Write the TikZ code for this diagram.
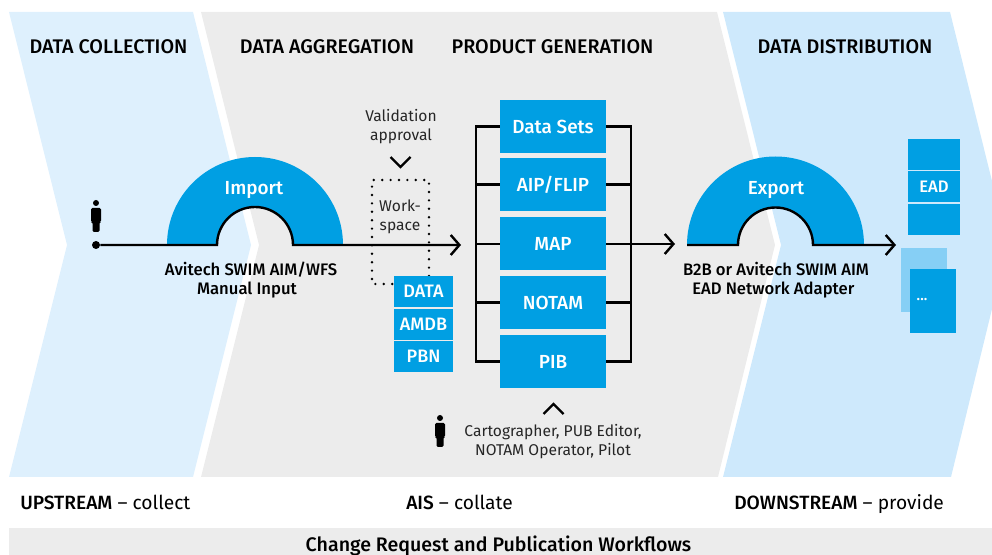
\documentclass[tikz,border=0pt]{standalone}
\usepackage{fontspec}
\setmainfont{Fira Sans}
\newfontfamily\medfont{Fira Sans Medium}
\usetikzlibrary{arrows.meta,calc}
\definecolor{bandone}{HTML}{DEF0FD}
\definecolor{bandtwo}{HTML}{ECECEC}
\definecolor{bandthree}{HTML}{CEE9FC}
\definecolor{avblue}{HTML}{009FE3}
\definecolor{avlight}{HTML}{86CFF5}
\tikzset{
  >={Straight Barb[length=6.5pt,width=15pt,line width=1.8pt]},
  wire/.style={line width=1.8pt,black},
  chevron/.style={line width=1.8pt,black},
  prodbox/.style={fill=avblue,text=white,minimum width=79.5pt,minimum height=39.75pt,inner sep=0pt,font=\medfont\fontsize{14.2}{16}\selectfont},
  smallbox/.style={fill=avblue,text=white,minimum width=44.25pt,minimum height=23.25pt,inner sep=0pt,font=\medfont\fontsize{13.5}{15}\selectfont},
  eadbox/.style={fill=avblue,text=white,minimum width=39pt,minimum height=23.25pt,inner sep=0pt,font=\medfont\fontsize{12.5}{14}\selectfont},
  heading/.style={font=\medfont\fontsize{14.8}{17}\selectfont,inner sep=0pt},
  caption/.style={font=\medfont\fontsize{12.5}{14.25}\selectfont,align=center,inner sep=0pt},
  plaintext/.style={font=\fontsize{11.7}{14.25}\selectfont,align=center,inner sep=0pt,text=black!85},
  bottomtext/.style={font=\fontsize{14.4}{16}\selectfont,inner sep=0pt},
  archlabel/.style={text=white,font=\medfont\fontsize{14.2}{16}\selectfont,inner sep=0pt}
}
\newcommand{\person}[2]{%
  \fill (#1,#2-12) circle (3);
  \fill[rounded corners=1pt] (#1-5,#2-7) -- (#1+5,#2-7) -- (#1+5,#2+7) -- (#1+3.5,#2+7) -- (#1+3.5,#2+17) -- (#1-3.5,#2+17) -- (#1-3.5,#2+7) -- (#1-5,#2+7) -- cycle;
}
\begin{document}
\begin{tikzpicture}[x=0.75pt,y=-0.75pt]
  \useasboundingbox (0,0) rectangle (992,555);
  \fill[bandone] (9,12) -- (193,12) -- (251,245) -- (193,477) -- (9,477) -- (67,245) -- cycle;
  \fill[bandtwo] (201,12) -- (717,12) -- (775,245) -- (718,477) -- (201,477) -- (259,245) -- cycle;
  \fill[bandthree] (723,12) -- (950,12) -- (992,181) -- (992,309) -- (951,477) -- (723,477) -- (781,245) -- cycle;
  \fill[bandtwo] (9,528) rectangle (992,555);

  \node[heading] (hcollect) at (108.5,47) {DATA COLLECTION};
  \node[heading] (haggr) at (327,47) {DATA AGGREGATION};
  \node[heading] (hprod) at (552.5,47) {PRODUCT GENERATION};
  \node[heading] (hdist) at (845,47) {DATA DISTRIBUTION};

  \fill[avblue] (167,245) arc (180:360:88) -- (293,245) arc (360:180:38) -- cycle;
  \fill[avblue] (687,245) arc (180:360:88.5) -- (813,245) arc (360:180:37.5) -- cycle;
  \node[archlabel] (import) at (254,190) {Import};
  \node[archlabel] (export) at (776,190) {Export};

  \draw[line width=2pt,line cap=round,dash pattern=on 0pt off 6.3pt] (429,276) -- (429,180) -- (372,180) -- (372,284) -- (394,284);

  \coordinate (importL) at (217,245);
  \coordinate (exportS) at (687,245);
  \coordinate (exportL) at (738,245);
  \coordinate (tipA) at (461,245);
  \coordinate (tipB) at (675,245);
  \coordinate (tipC) at (896,245);
  \node[circle,fill=black,minimum size=6pt,inner sep=0pt] (start) at (96,245) {};
  \draw[wire,->] (start) -- (importL) arc (180:360:38) -- (tipA);
  \draw[wire,->] (exportS) -- (exportL) arc (180:360:37.5) -- (tipC);
  \person{96}{215}
  \person{440}{430}

  \foreach \name/\ypos/\txt in {dsets/126.5/Data Sets,aip/184.5/AIP\slash FLIP,map/244/MAP,notam/302.5/NOTAM,pib/361.5/PIB}
    \node[prodbox] (\name) at (553,\ypos) {\txt};
  \coordinate (railL) at (476,0);
  \coordinate (railR) at (631,0);
  \draw[wire,line cap=rect] (railL |- dsets.west) -- (railL |- pib.west);
  \draw[wire,line cap=rect] (railR |- dsets.east) -- (railR |- pib.east);
  \foreach \name in {dsets,aip,map,notam,pib} {
    \draw[wire] (railL |- \name.west) -- (\name.west);
    \draw[wire] (\name.east) -- (railR |- \name.east);
  }
  \draw[wire,->] (map.east) -- (tipB |- map.east);

  \node[smallbox] (data) at (423.5,291.5) {DATA};
  \node[smallbox] (amdb) at (423.5,324.5) {AMDB};
  \node[smallbox] (pbn) at (423.5,356.5) {PBN};
  \node[eadbox] (eadA) at (934,154.5) {};
  \node[eadbox] (eadB) at (934,186.5) {EAD};
  \node[eadbox] (eadC) at (934,219.5) {};
  \fill[avlight] (901,248) rectangle (947,312);
  \node[fill=avblue,text=white,minimum width=34.5pt,minimum height=48pt,inner sep=0pt] (more) at (933,301) {};
  \node[text=white,font=\medfont\fontsize{11}{13}\selectfont,inner sep=0pt] (dots) at (922,300) {...};

  \node[plaintext] (valid) at (401,127) {Validation\\approval};
  \node[plaintext] (work) at (400,217) {Work-\\space};
  \coordinate (vdown) at (400.5,167);
  \draw[chevron] ($(vdown)+(-10,-10)$) -- (vdown) -- ($(vdown)+(10,-10)$);
  \coordinate (vup) at (553.5,404);
  \draw[chevron] ($(vup)+(-10,10)$) -- (vup) -- ($(vup)+(10,10)$);

  \node[caption] (swim) at (251,280) {Avitech SWIM AIM/WFS\\Manual Input\hspace*{6pt}};
  \node[caption] (b2b) at (776,280) {B2B or Avitech SWIM AIM\\EAD Network Adapter\hspace*{4pt}};
  \node[plaintext] (roles) at (553,442) {Cartographer, PUB Editor,\\NOTAM Operator, Pilot};

  \node[bottomtext,anchor=base west] (up) at (20,509) {{\medfont UPSTREAM} -- collect};
  \node[bottomtext,anchor=base] (ais) at (459.5,509) {{\medfont AIS} -- collate};
  \node[bottomtext,anchor=base west] (down) at (734,509) {{\medfont DOWNSTREAM} -- provide};
  \node[bottomtext,font=\medfont\fontsize{14.7}{16}\selectfont] (change) at (498.5,546) {Change Request and Publication Workflows};
\end{tikzpicture}
\end{document}
